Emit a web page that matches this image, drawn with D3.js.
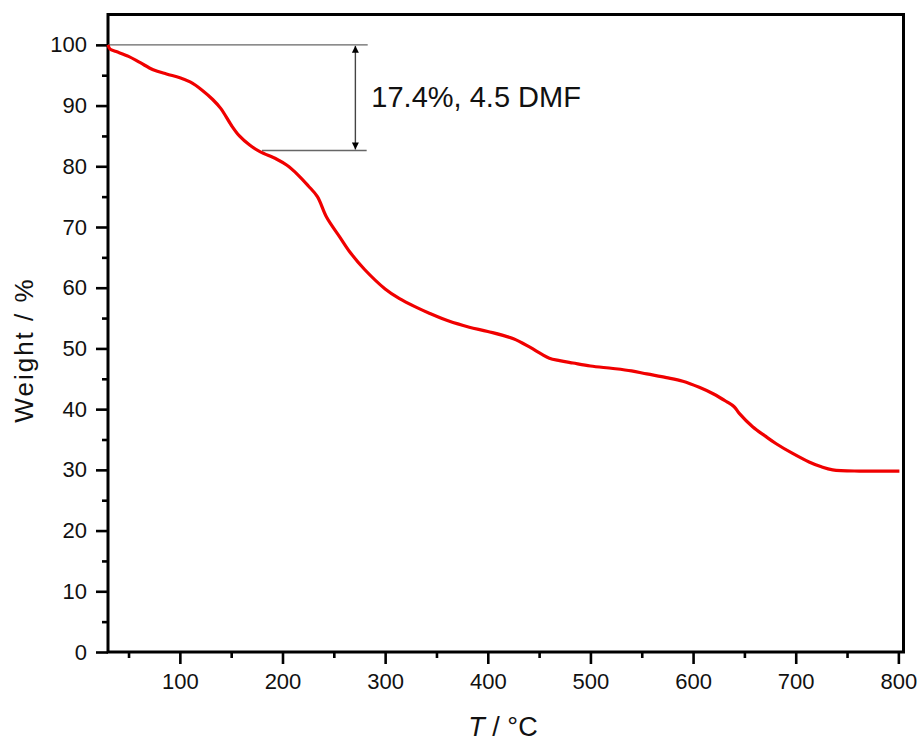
<!DOCTYPE html>
<html><head>
<meta charset="utf-8">
<script src="https://cdn.jsdelivr.net/npm/d3@7"></script>
<style>
body{
  margin: 0px;
  background: #fff;
}
text {
  font-family: "Liberation Sans", Arial, sans-serif;
  fill: #111;
}
.frame {
  fill: none;
  stroke: #000;
  stroke-width: 3px;
}
.curve {
  fill: none;
  stroke: #f00000;
  stroke-width: 3.2px;
}
.guide {
  stroke: #666;
  stroke-width: 1.4px;
}
</style>
<title>TGA</title>
</head>
<body>
<script>
var width = 922,
    height = 744;

// temperature (C) and weight (%)
var temps = [30, 32, 38, 50, 61, 74, 87, 100, 110, 122, 132, 140, 150, 158, 168, 178, 194, 204, 215, 225,
             234, 243, 256, 266, 280, 300, 314, 330, 343, 362, 382, 400, 425, 441, 452, 460, 470, 483, 500, 522,
             540, 555, 574, 590, 606, 620, 632, 640, 645, 658, 670, 681, 697, 713, 725, 736, 762, 780, 801];
var weights = [100, 99.3, 98.9, 98.1, 97.1, 95.9, 95.2, 94.6, 93.9, 92.5, 91.0, 89.5, 86.8, 85.0, 83.5, 82.4, 81.2, 80.2, 78.6, 76.8,
               75.0, 71.6, 68.3, 65.8, 63.0, 59.8, 58.2, 56.8, 55.8, 54.5, 53.5, 52.8, 51.6, 50.2, 49.1, 48.4, 48.0, 47.6, 47.1, 46.7,
               46.3, 45.8, 45.2, 44.6, 43.6, 42.5, 41.3, 40.4, 39.3, 37.1, 35.6, 34.3, 32.7, 31.3, 30.5, 30.0, 29.8, 29.8, 29.8];

var xTicks = [100, 200, 300, 400, 500, 600, 700, 800];
var yTicks = [0, 10, 20, 30, 40, 50, 60, 70, 80, 90, 100];

// mass loss annotation
var lossTop = 100, lossBottom = 82.6, lossText = "17.4%, 4.5 DMF";

var pLeft = 108, pRight = 903.5, pTop = 14.5, pBottom = 652;

var x = d3.scaleLinear().domain([30, 805]).range([pLeft, pRight]);
var y = d3.scaleLinear().domain([0, 105]).range([pBottom, pTop]);

var svg = d3.select("body").append("svg")
    .attr("width", width)
    .attr("height", height);

svg.append("rect").attr("width", width).attr("height", height).attr("fill", "#fff");

// axes
var xMinor = d3.axisBottom(x).tickValues(d3.range(50, 801, 100)).tickSize(6).tickFormat("");
var xMajor = d3.axisBottom(x).tickValues(xTicks).tickSize(12).tickPadding(9).tickFormat(d3.format("d"));
var yMinor = d3.axisLeft(y).tickValues(d3.range(5, 101, 10)).tickSize(6).tickFormat("");
var yMajor = d3.axisLeft(y).tickValues(yTicks).tickSize(12).tickPadding(9).tickFormat(d3.format("d"));

[xMinor, xMajor].forEach(function(a){
  svg.append("g").attr("transform", "translate(0," + pBottom + ")").call(a);
});
[yMinor, yMajor].forEach(function(a){
  svg.append("g").attr("transform", "translate(" + pLeft + ",0)").call(a);
});
svg.selectAll(".domain").remove();
svg.selectAll(".tick line").attr("stroke", "#000").attr("stroke-width", 2.6);
svg.selectAll(".tick text").attr("font-size", 22).attr("font-family", "Liberation Sans, Arial, sans-serif").attr("fill", "#111");

svg.append("rect").attr("class", "frame")
  .attr("x", pLeft).attr("y", pTop)
  .attr("width", pRight - pLeft).attr("height", pBottom - pTop);

// guide lines
svg.append("line").attr("class", "guide")
  .attr("x1", x(30)).attr("x2", x(283))
  .attr("y1", y(lossTop)).attr("y2", y(lossTop));
svg.append("line").attr("class", "guide")
  .attr("x1", x(180)).attr("x2", x(282))
  .attr("y1", y(lossBottom)).attr("y2", y(lossBottom));

var defs = svg.append("defs");
defs.append("marker").attr("id", "arr")
  .attr("viewBox", "0 0 10 10").attr("refX", 10).attr("refY", 5)
  .attr("markerWidth", 11).attr("markerHeight", 7).attr("markerUnits", "userSpaceOnUse")
  .attr("orient", "auto-start-reverse")
  .append("path").attr("d", "M0,0L10,5L0,10Z").attr("fill", "#000");

svg.append("line")
  .attr("x1", x(271)).attr("x2", x(271))
  .attr("y1", y(lossTop) + 1).attr("y2", y(lossBottom) - 1)
  .attr("stroke", "#444").attr("stroke-width", 1.4)
  .attr("marker-start", "url(#arr)").attr("marker-end", "url(#arr)");

svg.append("text").text(lossText)
  .attr("x", x(271) + 16).attr("y", 107)
  .attr("font-size", 29);

// curve
var pts = temps.map(function(t, i){ return [t, weights[i]]; });
var line = d3.line().x(function(d){ return x(d[0]); }).y(function(d){ return y(d[1]); }).curve(d3.curveCatmullRom.alpha(0.5));
svg.append("path").datum(pts).attr("class", "curve").attr("d", line);

// titles
svg.append("text")
  .attr("transform", "translate(33,350) rotate(-90)")
  .attr("text-anchor", "middle")
  .attr("font-size", 26)
  .attr("letter-spacing", 2)
  .text("Weight / %");

var xl = svg.append("text")
  .attr("x", 503).attr("y", 736)
  .attr("text-anchor", "middle")
  .attr("font-size", 27);
xl.append("tspan").attr("font-style", "italic").text("T");
xl.append("tspan").text(" / \u00B0C");
</script>
</body></html>
